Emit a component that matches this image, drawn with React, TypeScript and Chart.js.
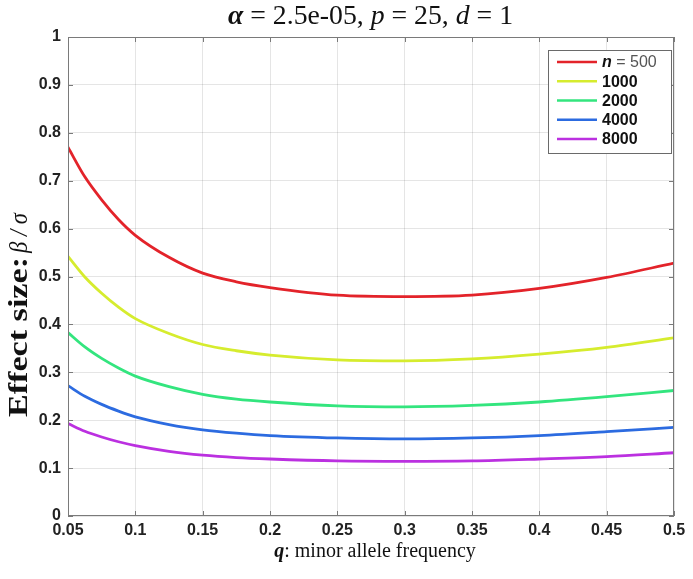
import React, { useEffect, useRef } from "react";
import { Chart, registerables } from "chart.js";

Chart.register(...registerables);

// ---- data ----
const qValues = [0.05, 0.0625, 0.075, 0.0875, 0.1, 0.125, 0.15, 0.175, 0.2, 0.25, 0.3, 0.35, 0.4, 0.45, 0.5];
const seriesLabels = ["500", "1000", "2000", "4000", "8000"];
const effN500 = [0.770, 0.708, 0.660, 0.619, 0.586, 0.540, 0.507, 0.489, 0.477, 0.461, 0.458, 0.461, 0.475, 0.498, 0.528];
const effN1000 = [0.542, 0.499, 0.465, 0.436, 0.412, 0.381, 0.358, 0.345, 0.336, 0.326, 0.324, 0.328, 0.338, 0.352, 0.372];
const effN2000 = [0.383, 0.353, 0.329, 0.309, 0.292, 0.270, 0.254, 0.244, 0.238, 0.230, 0.228, 0.231, 0.238, 0.249, 0.262];
const effN4000 = [0.272, 0.250, 0.233, 0.219, 0.207, 0.191, 0.180, 0.173, 0.168, 0.163, 0.161, 0.163, 0.168, 0.176, 0.185];
const effN8000 = [0.193, 0.177, 0.165, 0.155, 0.147, 0.135, 0.127, 0.122, 0.119, 0.115, 0.114, 0.115, 0.119, 0.124, 0.132];
const seriesColors = ["#e3232a", "#d6ec2e", "#33e57e", "#2c6be0", "#bb30e0"];

const xTickValues = [0.05, 0.1, 0.15, 0.2, 0.25, 0.3, 0.35, 0.4, 0.45, 0.5];
const xTickLabels = ["0.05", "0.1", "0.15", "0.2", "0.25", "0.3", "0.35", "0.4", "0.45", "0.5"];
const yTickValues = [0, 0.1, 0.2, 0.3, 0.4, 0.5, 0.6, 0.7, 0.8, 0.9, 1];
const yTickLabels = ["0", "0.1", "0.2", "0.3", "0.4", "0.5", "0.6", "0.7", "0.8", "0.9", "1"];

const SERIF = "'Liberation Serif', 'Times New Roman', serif";
const SANS = "'Liberation Sans', Arial, Helvetica, sans-serif";

type Seg = { t: string; f: string; c?: string };

function drawSegs(ctx: CanvasRenderingContext2D, segs: Seg[], cx: number, y: number, targetW?: number) {
  let total = 0;
  for (const s of segs) {
    ctx.font = s.f;
    total += ctx.measureText(s.t).width;
  }
  const sx = targetW ? targetW / total : 1;
  ctx.save();
  ctx.translate(cx - (total * sx) / 2, y);
  ctx.scale(sx, 1);
  let x = 0;
  ctx.textAlign = "left";
  ctx.textBaseline = "alphabetic";
  for (const s of segs) {
    ctx.font = s.f;
    ctx.fillStyle = s.c || "#111";
    ctx.fillText(s.t, x, 0);
    x += ctx.measureText(s.t).width;
  }
  ctx.restore();
}

const decorPlugin = {
  id: "decor",
  afterDraw(chart: any) {
    const ctx: CanvasRenderingContext2D = chart.ctx;
    const { left, right, top, bottom } = chart.chartArea;
    const xs = chart.scales.x;
    const ys = chart.scales.y;
    ctx.save();
    // box
    ctx.strokeStyle = "#7a7a7a";
    ctx.lineWidth = 1;
    ctx.strokeRect(Math.round(left) + 0.5, Math.round(top) + 0.5, Math.round(right - left) - 1, Math.round(bottom - top) - 1);
    // inward ticks
    const tl = 5;
    ctx.beginPath();
    for (const v of xTickValues) {
      const px = Math.round(xs.getPixelForValue(v)) + 0.5;
      ctx.moveTo(px, bottom);
      ctx.lineTo(px, bottom - tl);
      ctx.moveTo(px, top);
      ctx.lineTo(px, top + tl);
    }
    for (const v of yTickValues) {
      const py = Math.round(ys.getPixelForValue(v)) + 0.5;
      ctx.moveTo(left, py);
      ctx.lineTo(left + tl, py);
      ctx.moveTo(right, py);
      ctx.lineTo(right - tl, py);
    }
    ctx.stroke();

    // title
    drawSegs(
      ctx,
      [
        { t: "\u03b1", f: `bold italic 27px ${SERIF}` },
        { t: " = 2.5e-05, ", f: `27px ${SERIF}` },
        { t: "p", f: `italic 27px ${SERIF}` },
        { t: " = 25, ", f: `27px ${SERIF}` },
        { t: "d", f: `italic 27px ${SERIF}` },
        { t: " = 1", f: `27px ${SERIF}` },
      ],
      370.5,
      24,
      285
    );

    // x label
    drawSegs(
      ctx,
      [
        { t: "q", f: `bold italic 20px ${SERIF}` },
        { t: ": minor allele frequency", f: `20px ${SERIF}` },
      ],
      375,
      557
    );

    // y label (rotated)
    ctx.save();
    ctx.translate(27, 417);
    ctx.rotate(-Math.PI / 2);
    ctx.textAlign = "left";
    ctx.textBaseline = "alphabetic";
    ctx.fillStyle = "#111";
    ctx.font = `bold 28px ${SERIF}`;
    const w1 = ctx.measureText("Effect size:").width;
    ctx.save();
    ctx.scale(160 / w1, 1);
    ctx.fillText("Effect size:", 0, 0);
    ctx.restore();
    ctx.font = `italic 25px ${SERIF}`;
    const w2 = ctx.measureText("\u03b2 / \u03c3").width;
    ctx.save();
    ctx.translate(164, 0);
    ctx.scale(40 / w2, 1);
    ctx.fillText("\u03b2 / \u03c3", 0, 0);
    ctx.restore();
    ctx.restore();

    // legend
    const lx0 = 548, lx1 = 671, ly0 = 50, ly1 = 153;
    ctx.fillStyle = "#fff";
    ctx.fillRect(lx0, ly0, lx1 - lx0, ly1 - ly0);
    ctx.strokeStyle = "#6a6a6a";
    ctx.lineWidth = 1;
    ctx.strokeRect(lx0 + 0.5, ly0 + 0.5, lx1 - lx0, ly1 - ly0);
    chart.data.datasets.forEach((ds: any, i: number) => {
      const ry = 62 + i * 19.25;
      ctx.strokeStyle = ds.borderColor;
      ctx.lineWidth = 2.5;
      ctx.beginPath();
      ctx.moveTo(557, ry);
      ctx.lineTo(597, ry);
      ctx.stroke();
      ctx.textBaseline = "middle";
      ctx.textAlign = "left";
      if (i === 0) {
        ctx.font = `bold italic 16px ${SANS}`;
        ctx.fillStyle = "#111";
        ctx.fillText("n", 602, ry + 1);
        const nw = ctx.measureText("n").width;
        ctx.font = `16px ${SANS}`;
        ctx.fillStyle = "#555";
        ctx.fillText(" = " + seriesLabels[i], 602 + nw, ry + 1);
      } else {
        ctx.font = `bold 16px ${SANS}`;
        ctx.fillStyle = "#111";
        ctx.fillText(seriesLabels[i], 602, ry + 1);
      }
    });
    ctx.restore();
  },
};

export default function App() {
  const ref = useRef<HTMLCanvasElement | null>(null);
  useEffect(() => {
    if (!ref.current) return;
    const allSeries = [effN500, effN1000, effN2000, effN4000, effN8000];
    const chart = new Chart(ref.current, {
      type: "line",
      data: {
        datasets: allSeries.map((arr, i) => ({
          label: seriesLabels[i],
          data: qValues.map((x, j) => ({ x, y: arr[j] })),
          borderColor: seriesColors[i],
          backgroundColor: seriesColors[i],
          borderWidth: 2.8,
          pointRadius: 0,
          cubicInterpolationMode: "monotone" as const,
          fill: false,
        })),
      },
      options: {
        responsive: false,
        animation: false,
        devicePixelRatio: 1,
        layout: { padding: { top: 37, right: 19, left: 0, bottom: 0 } },
        plugins: {
          legend: { display: false },
          title: { display: false },
          tooltip: { enabled: false },
        },
        scales: {
          x: {
            type: "linear",
            min: 0.05,
            max: 0.5,
            afterBuildTicks: (s: any) => {
              s.ticks = xTickValues.map((v) => ({ value: v }));
            },
            afterFit: (s: any) => {
              s.height = 63;
            },
            ticks: {
              autoSkip: false,
              maxRotation: 0,
              padding: 5,
              color: "#222",
              font: { family: SANS, size: 16, weight: "bold" },
              callback: (_v: any, i: number) => xTickLabels[i],
            },
            grid: { color: "rgba(0,0,0,0.1)", drawTicks: false },
            border: { display: false },
          },
          y: {
            type: "linear",
            min: 0,
            max: 1,
            afterBuildTicks: (s: any) => {
              s.ticks = yTickValues.map((v) => ({ value: v }));
            },
            afterFit: (s: any) => {
              s.width = 68;
            },
            ticks: {
              autoSkip: false,
              padding: 7,
              color: "#222",
              font: { family: SANS, size: 16, weight: "bold" },
              callback: (_v: any, i: number) => yTickLabels[i],
            },
            grid: { color: "rgba(0,0,0,0.1)", drawTicks: false },
            border: { display: false },
          },
        },
      },
      plugins: [decorPlugin],
    });
    return () => chart.destroy();
  }, []);
  return (
    <div style={{ position: "absolute", left: 0, top: 0, width: 693, height: 579, background: "#fff" }}>
      <canvas ref={ref} width={693} height={579} style={{ display: "block", width: 693, height: 579 }} />
    </div>
  );
}
